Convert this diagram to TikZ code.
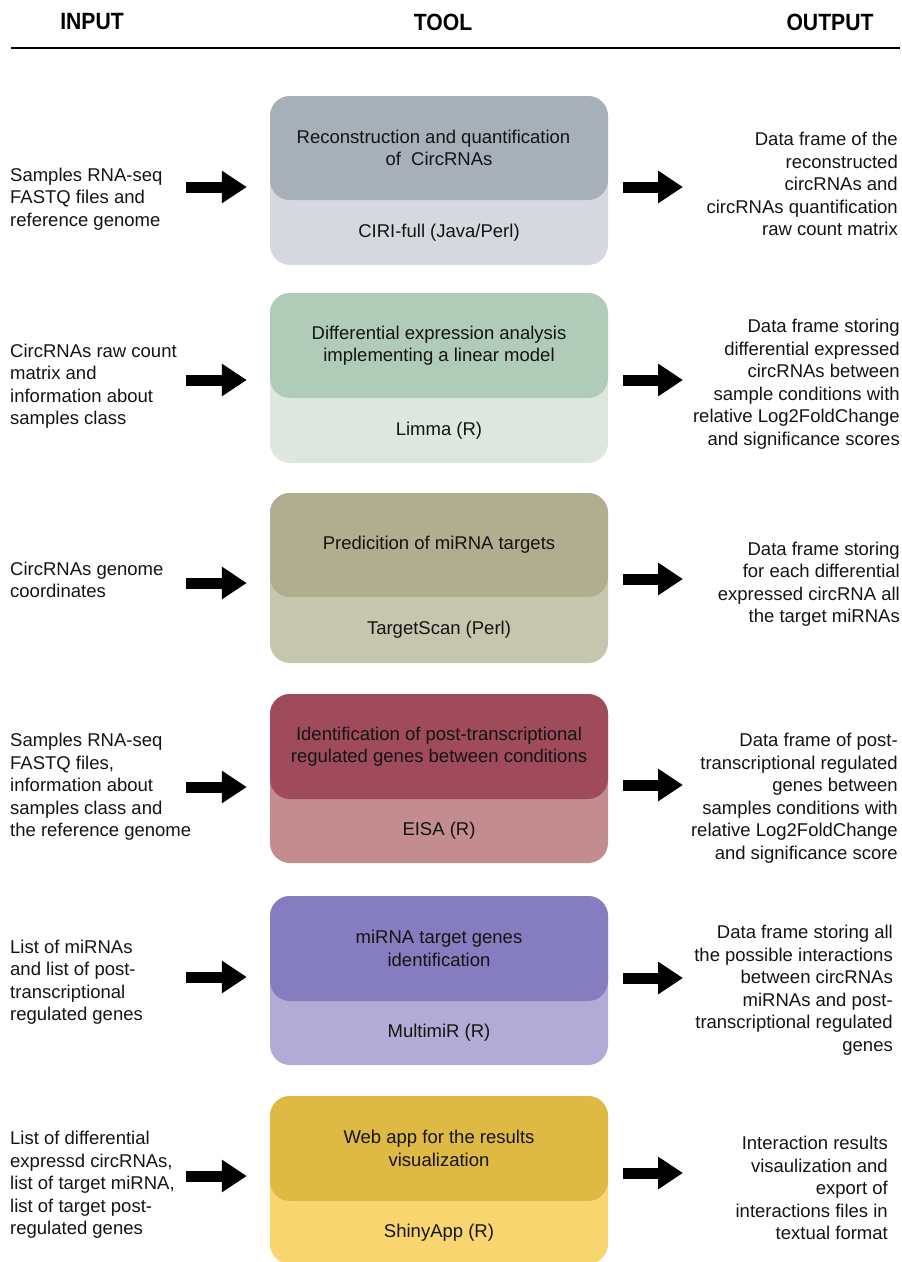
\documentclass[tikz,border=0pt]{standalone}
\usepackage{fontspec}
\setmainfont{Liberation Sans}
\usetikzlibrary{arrows.meta}
\definecolor{d1}{HTML}{A7AFB8}\definecolor{l1}{HTML}{D5D9DF}
\definecolor{d2}{HTML}{B0CBB8}\definecolor{l2}{HTML}{DDE6DF}
\definecolor{d3}{HTML}{B1AD8F}\definecolor{l3}{HTML}{C6C6AF}
\definecolor{d4}{HTML}{A04B5C}\definecolor{l4}{HTML}{C38C8F}
\definecolor{d5}{HTML}{857DBF}\definecolor{l5}{HTML}{B2ABD5}
\definecolor{d6}{HTML}{DEB944}\definecolor{l6}{HTML}{F9D56F}
\definecolor{ink}{HTML}{141414}
\tikzset{
  txt/.style={font=\fontsize{18.5}{22.5}\selectfont, inner sep=0pt, text=ink},
  lefttxt/.style={txt, anchor=west, align=left},
  righttxt/.style={txt, anchor=east, align=right},
  hdr/.style={font=\fontsize{23.5}{27}\selectfont\bfseries, inner sep=0pt, text=black},
  boxbg/.style={rectangle, rounded corners=20pt, minimum width=338pt, minimum height=#1, inner sep=0pt},
  toolbox/.style={boxbg=#1, txt, align=center},
  bigarrow/.style={draw=black, line width=11pt, -{Triangle[length=25pt, width=31pt]}},
}
\begin{document}
\begin{tikzpicture}[x=1pt, y=-1pt]
\useasboundingbox (0,0) rectangle (902,1262);
% header
\node[hdr] (hin) at (92,22) {\scalebox{0.9}[1]{INPUT}};
\node[hdr] (htool) at (443,22) {\scalebox{0.9}[1]{TOOL}};
\node[hdr] (hout) at (830,22) {\scalebox{0.9}[1]{OUTPUT}};
\coordinate (rl) at (11,48); \coordinate (rr) at (900,48);
\draw[line width=2pt] (rl) -- (rr);

% boxes
\node[boxbg=169pt, fill=l1] (box1) at (439,180.5) {};
\node[toolbox=104pt, fill=d1] (tool1) at (439,148) {Reconstruction and quantification\hspace*{11pt}\\of\ \ CircRNAs};
\node[txt] (lang1) at (439,232.5) {CIRI-full (Java/Perl)};

\node[boxbg=170pt, fill=l2] (box2) at (439,378) {};
\node[toolbox=105pt, fill=d2] (tool2) at (439,345.5) {Differential expression analysis\\implementing a linear model};
\node[txt] (lang2) at (439,430.5) {Limma (R)};

\node[boxbg=170pt, fill=l3] (box3) at (439,578) {};
\node[toolbox=104pt, fill=d3] (tool3) at (439,545) {Predicition of miRNA targets};
\node[txt] (lang3) at (439,630) {TargetScan (Perl)};

\node[boxbg=169pt, fill=l4] (box4) at (439,778.5) {};
\node[toolbox=105pt, fill=d4] (tool4) at (439,746.5) {Identification of post-transcriptional\\regulated genes between conditions};
\node[txt] (lang4) at (439,831) {EISA (R)};

\node[boxbg=169pt, fill=l5] (box5) at (439,980.5) {};
\node[toolbox=105pt, fill=d5] (tool5) at (439,948.5) {miRNA target genes\\identification};
\node[txt] (lang5) at (439,1033) {MultimiR (R)};

\node[boxbg=168pt, fill=l6] (box6) at (439,1180) {};
\node[toolbox=105pt, fill=d6] (tool6) at (439,1148.5) {Web app for the results\\visualization};
\node[txt] (lang6) at (439,1232.5) {ShinyApp (R)};

% inputs
\node[lefttxt] (in1) at (10,199) {Samples RNA-seq\\FASTQ files and\\reference genome};
\node[lefttxt] (in2) at (10,386) {CircRNAs raw count\\matrix and\\information about\\samples class};
\node[lefttxt] (in3) at (10,580) {CircRNAs genome\\coordinates};
\node[lefttxt] (in4) at (10,787) {Samples RNA-seq\\FASTQ files,\\information about\\samples class and\\the reference genome};
\node[lefttxt] (in5) at (10,982) {List of miRNAs\\and list of post-\\transcriptional\\regulated genes};
\node[lefttxt] (in6) at (10,1185) {List of differential\\expressd circRNAs,\\list of target miRNA,\\list of target post-\\regulated genes};

% outputs
\node[righttxt] (out1) at (898,184) {Data frame of the\\reconstructed\\circRNAs and\\circRNAs quantification\\raw count matrix};
\node[righttxt] (out2) at (900,384) {Data frame storing\\differential expressed\\circRNAs between\\sample conditions with\\relative Log2FoldChange\\and significance scores};
\node[righttxt] (out3) at (900,584) {Data frame storing\\for each differential\\expressed circRNA all\\the target miRNAs};
\node[righttxt] (out4) at (898,798) {Data frame of post-\\transcriptional regulated\\genes between\\samples conditions with\\relative Log2FoldChange\\and significance score};
\node[righttxt] (out5) at (893,990) {Data frame storing all\\the possible interactions\\between circRNAs\\miRNAs and post-\\transcriptional regulated\\genes};
\node[righttxt] (out6) at (888,1188) {Interaction results\\visaulization and\\export of\\interactions files in\\textual format};

% arrow anchors
\coordinate (ia1) at (186,187);  \coordinate (oa1) at (683,187);
\coordinate (ia2) at (186,380);  \coordinate (oa2) at (683,380);
\coordinate (ia3) at (186,583);  \coordinate (oa3) at (683,579);
\coordinate (ia4) at (186,787);  \coordinate (oa4) at (683,785);
\coordinate (ia5) at (186,977);  \coordinate (oa5) at (683,978);
\coordinate (ia6) at (186,1176); \coordinate (oa6) at (683,1173);

\foreach \i in {1,...,6}{
  \draw[bigarrow, shorten >=23pt] (ia\i) -- (ia\i -| box\i.west);
  \draw[bigarrow, shorten <=15pt] (box\i.east |- oa\i) -- (oa\i);
}
\end{tikzpicture}
\end{document}
